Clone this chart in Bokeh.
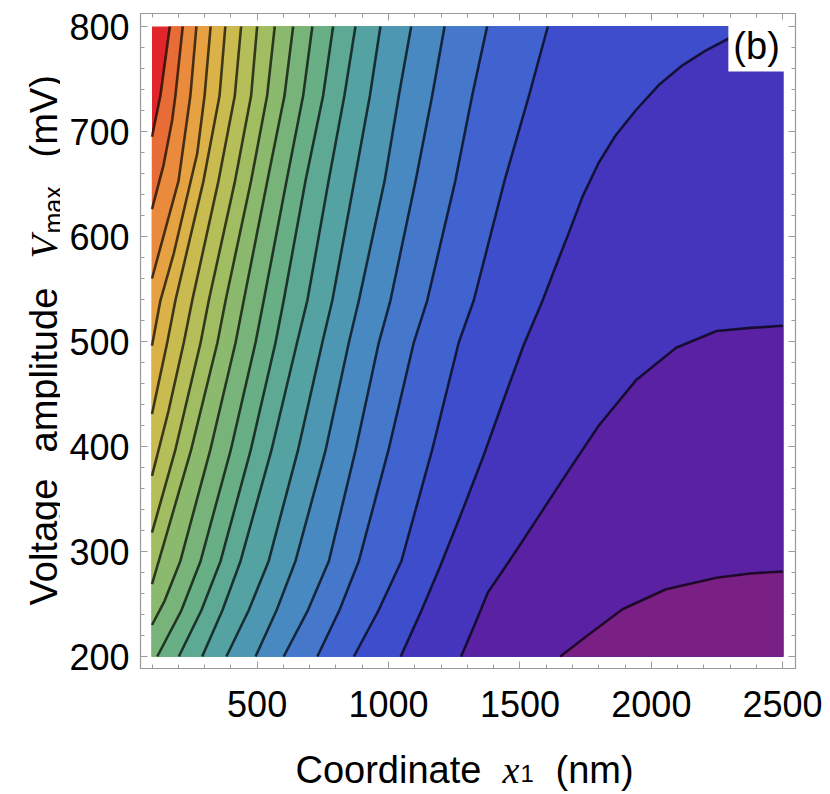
import math
from bokeh.plotting import figure
from bokeh.layouts import column, row
from bokeh.models import Range1d, LinearAxis, SingleIntervalTicker, Label, CustomJSTickFormatter
from bokeh.embed import file_html
from bokeh.resources import INLINE

# ---------------- data ----------------
X_MIN, X_MAX = 100, 2500          # coordinate x1 (nm)
V_MIN, V_MAX = 200, 800           # voltage amplitude Vmax (mV)

rows_v = [800, 734, 653, 539, 499, 396, 291, 244, 200]

# contour lines, ordered from the top/right boundary to the left/bottom boundary
c1_x = [168, 132, 100];                         c1_v = [800, 734, 695]
c2_x = [217, 189, 177, 144, 100];               c2_v = [800, 734, 711, 668, 626]
c3_x = [269, 246, 201, 100];                    c3_v = [800, 734, 653, 560]
c4_x = [323, 300, 272, 183, 132, 100];          c4_v = [800, 734, 679, 584, 539, 496]
c5_x = [379, 357, 296, 189, 158, 100];          c5_v = [800, 734, 653, 539, 499, 431]
c6_x = [439, 415, 353, 253, 221, 163, 100];     c6_v = [800, 734, 653, 539, 499, 434, 372]
c7_x = [500, 477, 416, 316, 285, 188, 100];     c7_v = [800, 734, 653, 539, 499, 396, 318]
c8_x = [567, 538, 477, 380, 349, 248, 126, 100]; c8_v = [800, 734, 653, 539, 499, 396, 291, 269]
c9_x = [637, 604, 539, 449, 418, 321, 208, 148, 100]; c9_v = [800, 734, 653, 539, 499, 396, 291, 253, 230]
c10_x = [710, 675, 612, 525, 494, 399, 285, 212, 120]
c11_x = [789, 751, 684, 601, 570, 475, 361, 288, 202]
c12_x = [874, 832, 772, 691, 652, 554, 437, 368, 291]
c13_x = [969, 929, 870, 786, 748, 655, 544, 468, 383]
c14_x = [1086, 1039, 985, 887, 849, 760, 646, 574, 494]
c15_x = [1213, 1166, 1103, 1007, 963, 874, 773, 693, 601]
c16_x = [1375, 1318, 1254, 1147, 1096, 999, 887, 813, 729]
c17_x = [1606, 1534, 1441, 1324, 1267, 1165, 1049, 962, 868]
c18_x = [2385, 2305, 2206, 2118, 2027, 1940, 1863, 1799, 1738, 1685, 1635, 1586,
         1513, 1437, 1361, 1281, 1198, 1122, 1046]
c18_v = [800, 790, 777, 763, 744, 720, 696, 670, 638, 603, 571, 539,
         496, 444, 391, 339, 287, 242, 200]
c19_x = [2500, 2377, 2248, 2094, 1941, 1800, 1685, 1583, 1481, 1378, 1327, 1276]
c19_v = [515, 513, 510, 494, 463, 420, 377, 338, 299, 261, 230, 200]
c20_x = [2500, 2377, 2248, 2056, 1890, 1762, 1653]
c20_v = [281, 279, 275, 264, 245, 221, 200]

contours = [
    (c1_x, c1_v), (c2_x, c2_v), (c3_x, c3_v), (c4_x, c4_v), (c5_x, c5_v),
    (c6_x, c6_v), (c7_x, c7_v), (c8_x, c8_v), (c9_x, c9_v),
    (c10_x, rows_v), (c11_x, rows_v), (c12_x, rows_v), (c13_x, rows_v),
    (c14_x, rows_v), (c15_x, rows_v), (c16_x, rows_v), (c17_x, rows_v),
    (c18_x, c18_v), (c19_x, c19_v), (c20_x, c20_v),
]

# band colours, from highest value (top-left) to lowest (bottom-right)
band_colors = ["#e0262a", "#e86c35", "#ea8a3c", "#e6a242", "#dbb248", "#c9bb50",
               "#b5be58", "#a0bd62", "#8bb96d", "#78b479", "#69af86", "#5ea994",
               "#55a2a3", "#4e97b3", "#4989c1", "#4577ca", "#4163cf", "#3e4dcb",
               "#4535bd", "#5a22a2", "#7a1f84"]

x_ticks_major = 500
y_ticks_major = 100

# ---------------- layout (page pixels) ----------------
TITLE_W = 60                       # left strip for the y title
FRAME_W, FRAME_H = 655, 655
FRAME_LEFT, FRAME_TOP = 140, 13    # frame position on the page
MAIN_H = 734                       # height of the main row
FX_H = 58                          # x-title strip (page y 734..792)
FX_FRAME_SHIFT = 13                # the strip's frame sits 13 px below its canvas top
KX = 630.8 / (X_MAX - X_MIN)       # px per nm
KY = 630.0 / (V_MAX - V_MIN)       # px per mV
x_lo = X_MIN - 11.5 / KX
x_hi = x_lo + FRAME_W / KX
y_hi = V_MAX + 13.0 / KY
y_lo = y_hi - FRAME_H / KY


def no_title(f):
    try:
        f.title = None
    except Exception:
        f.title.visible = False


p = figure(x_range=Range1d(x_lo, x_hi), y_range=Range1d(y_lo, y_hi),
           frame_width=FRAME_W, frame_height=FRAME_H,
           min_border_left=FRAME_LEFT - TITLE_W, min_border_right=27,
           min_border_top=FRAME_TOP, min_border_bottom=MAIN_H - FRAME_TOP - FRAME_H,
           output_backend="svg", toolbar_location=None)
no_title(p)
p.grid.visible = False
p.background_fill_color = "white"
p.border_fill_color = "white"
p.outline_line_color = "#9a9a9a"
p.outline_line_width = 1.2

# ---------------- filled bands ----------------
H = V_MAX - V_MIN
W = X_MAX - X_MIN
P = 2 * H + 2 * W
corners = [(0.0, X_MIN, V_MAX), (H, X_MIN, V_MIN), (H + W, X_MAX, V_MIN), (2 * H + W, X_MAX, V_MAX)]

def perim(x, v):
    e = 1e-6
    if abs(x - X_MIN) < e:
        return V_MAX - v
    if abs(v - V_MIN) < e:
        return H + (x - X_MIN)
    if abs(x - X_MAX) < e:
        return H + W + (v - V_MIN)
    return 2 * H + W + (X_MAX - x)

def lower_region(xs, vs):
    s_start = perim(xs[0], vs[0])
    s_end = perim(xs[-1], vs[-1])
    span = (s_start - s_end) % P
    px_, pv_ = list(xs), list(vs)
    extra = sorted(((cs - s_end) % P, cx, cv) for cs, cx, cv in corners)
    for d, cx, cv in extra:
        if 0 < d < span:
            px_.append(cx)
            pv_.append(cv)
    return px_, pv_

p.quad(left=[X_MIN], right=[X_MAX], bottom=[V_MIN], top=[V_MAX],
       fill_color=band_colors[0], line_color=None)
reg_x, reg_y = [], []
for cx, cv in contours:
    rx, ry = lower_region(cx, cv)
    reg_x.append(rx)
    reg_y.append(ry)
p.patches(reg_x, reg_y, fill_color=band_colors[1:], line_color=band_colors[1:], line_width=0.5)

p.multi_line([c[0] for c in contours], [c[1] for c in contours],
             line_color="black", line_alpha=0.7, line_width=2.6, line_join="round")

# ---------------- axes ----------------
FONT = "Liberation Sans"
for ax in (p.xaxis[0], p.yaxis[0]):
    ax.axis_label = None
    ax.axis_line_color = "#9a9a9a"
    ax.major_tick_line_color = "#9a9a9a"
    ax.minor_tick_line_color = "#9a9a9a"
    ax.major_tick_in = 7
    ax.major_tick_out = 0
    ax.minor_tick_in = 4
    ax.minor_tick_out = 0
    ax.major_label_text_font = FONT
    ax.major_label_text_font_size = "36px"
    ax.major_label_text_color = "black"
p.xaxis.ticker = SingleIntervalTicker(interval=x_ticks_major, num_minor_ticks=5)
p.yaxis.ticker = SingleIntervalTicker(interval=y_ticks_major, num_minor_ticks=5)
p.xaxis.major_label_standoff = 22
p.yaxis.major_label_standoff = 11

def blank_axis(interval):
    a = LinearAxis(ticker=SingleIntervalTicker(interval=interval, num_minor_ticks=5),
                   formatter=CustomJSTickFormatter(code="return ''"))
    a.axis_label = None
    a.axis_line_color = "#9a9a9a"
    a.major_tick_line_color = "#9a9a9a"
    a.minor_tick_line_color = "#9a9a9a"
    a.major_tick_in = 7
    a.major_tick_out = 0
    a.minor_tick_in = 4
    a.minor_tick_out = 0
    a.major_label_text_font_size = "1px"
    a.major_label_standoff = 0
    return a

p.add_layout(blank_axis(x_ticks_major), "above")
p.add_layout(blank_axis(y_ticks_major), "right")

# panel tag
p.add_layout(Label(x=X_MAX, y=V_MAX, text="(b)", text_font=FONT, text_font_size="38px",
                   text_color="black", text_align="right", text_baseline="top",
                   background_fill_color="white", padding=5, x_offset=2, y_offset=7))

# ---------------- axis titles (separate strips) ----------------
def strip(w, h, xr, yr):
    f = figure(width=w, height=h, x_range=xr, y_range=yr,
               min_border=0, x_axis_type=None, y_axis_type=None,
               output_backend="svg", toolbar_location=None)
    no_title(f)
    f.outline_line_color = None
    f.background_fill_color = "white"
    f.border_fill_color = "white"
    return f

LBL = "38px"
FX_W = TITLE_W + (FRAME_LEFT - TITLE_W) + FRAME_W + 27
# the y-title strip shares the main frame's vertical extent (page y 13..668)
fy = strip(TITLE_W, MAIN_H, Range1d(0, TITLE_W), Range1d(-(FRAME_TOP + FRAME_H), -FRAME_TOP))
# the x-title strip lies below the main row
fx = strip(FX_W, FX_H, Range1d(0, FX_H * 0 + FX_W), Range1d(0, FX_H))

def text_at(f, x, y, text, size=LBL, font=FONT, style="normal", angle=0.0):
    f.add_layout(Label(x=x, y=y, text=text, text_font=font,
                       text_font_size=size, text_font_style=style, text_color="black",
                       text_align="left", text_baseline="alphabetic", angle=angle))

# x title: Coordinate  x1  (nm)      (page px -> strip frame coords measured from its bottom)
BOTTOM = MAIN_H + FX_FRAME_SHIFT + FX_H
text_at(fx, 295, BOTTOM - 782, "Coordinate")
text_at(fx, 502, BOTTOM - 782, "x", font="Liberation Serif", style="italic")
text_at(fx, 520, BOTTOM - 786, "1", size="24px")
text_at(fx, 555, BOTTOM - 782, "(nm)")

# y title: Voltage  amplitude  Vmax  (mV)  rotated; strip coords: y = -page_y
R = math.pi / 2
text_at(fy, 43, -605, "Voltage", angle=R)
text_at(fy, 43, -452, "amplitude", angle=R)
text_at(fy, 43, -258, "V", font="Liberation Serif", style="italic", angle=R)
text_at(fy, 52, -233, "max", size="25px", angle=R)
text_at(fy, 43, -157, "(mV)", angle=R)

layout = column(row(fy, p), fx)
open("out.html", "w").write(file_html(layout, INLINE))
